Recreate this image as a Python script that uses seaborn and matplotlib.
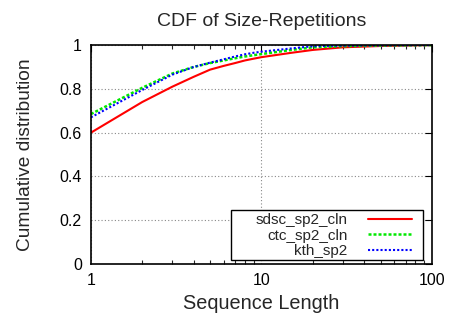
import matplotlib
matplotlib.use("Agg")
import matplotlib.pyplot as plt
import matplotlib.ticker as mticker
from matplotlib.patches import Rectangle
import seaborn as sns
import pandas as pd

seq_len = [1, 2, 3, 4, 5, 6, 7, 8, 9, 10, 15, 20, 30, 50, 100]
sdsc = [0.60, 0.74, 0.81, 0.855, 0.888, 0.905, 0.918, 0.93, 0.938, 0.945, 0.965, 0.978, 0.99, 0.996, 1.0]
ctc = [0.685, 0.805, 0.87, 0.9, 0.918, 0.93, 0.94, 0.948, 0.954, 0.959, 0.978, 0.99, 0.995, 0.998, 1.0]
kth = [0.67, 0.795, 0.865, 0.9, 0.92, 0.935, 0.948, 0.958, 0.965, 0.97, 0.985, 0.995, 0.998, 0.999, 1.0]
series_names = ["sdsc_sp2_cln", "ctc_sp2_cln", "kth_sp2"]
x_ticks = [1, 10, 100]
y_ticks = [0, 0.2, 0.4, 0.6, 0.8, 1]

sns.set_style("white")
plt.rcParams["font.family"] = ["Liberation Sans", "DejaVu Sans"]

rows = []
for name, vals in zip(series_names, [sdsc, ctc, kth]):
    for x, v in zip(seq_len, vals):
        rows.append({"len": x, "cdf": v, "series": name})
df = pd.DataFrame(rows)

fig = plt.figure(figsize=(4.5, 3.2), dpi=100)
ax = fig.add_axes([0.202, 0.175, 0.758, 0.684])

colors = {"sdsc_sp2_cln": "#ff0000", "ctc_sp2_cln": "#00e800", "kth_sp2": "#0000ff"}
styles = {"sdsc_sp2_cln": "-", "ctc_sp2_cln": (0, (1.2, 0.8)), "kth_sp2": (0, (1, 1))}
widths = {"sdsc_sp2_cln": 1.5, "ctc_sp2_cln": 1.8, "kth_sp2": 1.5}
for name in series_names:
    sub = df[df["series"] == name]
    sns.lineplot(data=sub, x="len", y="cdf", ax=ax, color=colors[name],
                 linestyle=styles[name], linewidth=widths[name], label=name)

ax.set_xscale("log")
ax.set_xlim(1, 100)
ax.set_ylim(0, 1)
ax.set_xticks(x_ticks)
ax.xaxis.set_major_formatter(mticker.FuncFormatter(lambda v, p: f"{v:g}"))
ax.xaxis.set_minor_locator(mticker.LogLocator(base=10, subs=range(2, 10)))
ax.xaxis.set_minor_formatter(mticker.NullFormatter())
ax.set_yticks(y_ticks)
ax.yaxis.set_major_formatter(mticker.FuncFormatter(lambda v, p: f"{v:g}"))

ax.grid(True, which="major", color="#888888", linestyle=(0, (1, 2)), linewidth=0.8)
ax.tick_params(which="major", direction="in", length=5, width=0.8, top=True, right=True,
               labelsize=11.5, colors="black", pad=6.5)
ax.tick_params(which="minor", direction="in", length=3, width=0.8, top=True, right=True, bottom=True)
for s in ax.spines.values():
    s.set_color("black")
    s.set_linewidth(1.2)

ax.set_xlabel("Sequence Length", fontsize=14.3, labelpad=4)
ax.set_ylabel("Cumulative distribution", fontsize=13.8, labelpad=18)
ax.set_title("CDF of Size-Repetitions", fontsize=14, pad=14)

leg = ax.legend(loc="lower right", bbox_to_anchor=(0.941, 0.027), borderaxespad=0,
                markerfirst=False, frameon=False, fontsize=11, handlelength=2.9,
                labelspacing=0.1, borderpad=0, handletextpad=1.3)
leg.set_zorder(6)

fig.canvas.draw()
bb = leg.get_window_extent()
inv = fig.transFigure.inverted()
x0, y0 = inv.transform((bb.x0 - 25, bb.y0 - 2))
x1, y1 = inv.transform((bb.x1 + 11, bb.y1 + 3))
rect = Rectangle((x0, y0), x1 - x0, y1 - y0, transform=fig.transFigure,
                 facecolor="white", edgecolor="black", linewidth=1.0, zorder=5)
fig.add_artist(rect)
leg.remove()
fig.add_artist(leg)

fig.savefig("out.png", dpi=100)
